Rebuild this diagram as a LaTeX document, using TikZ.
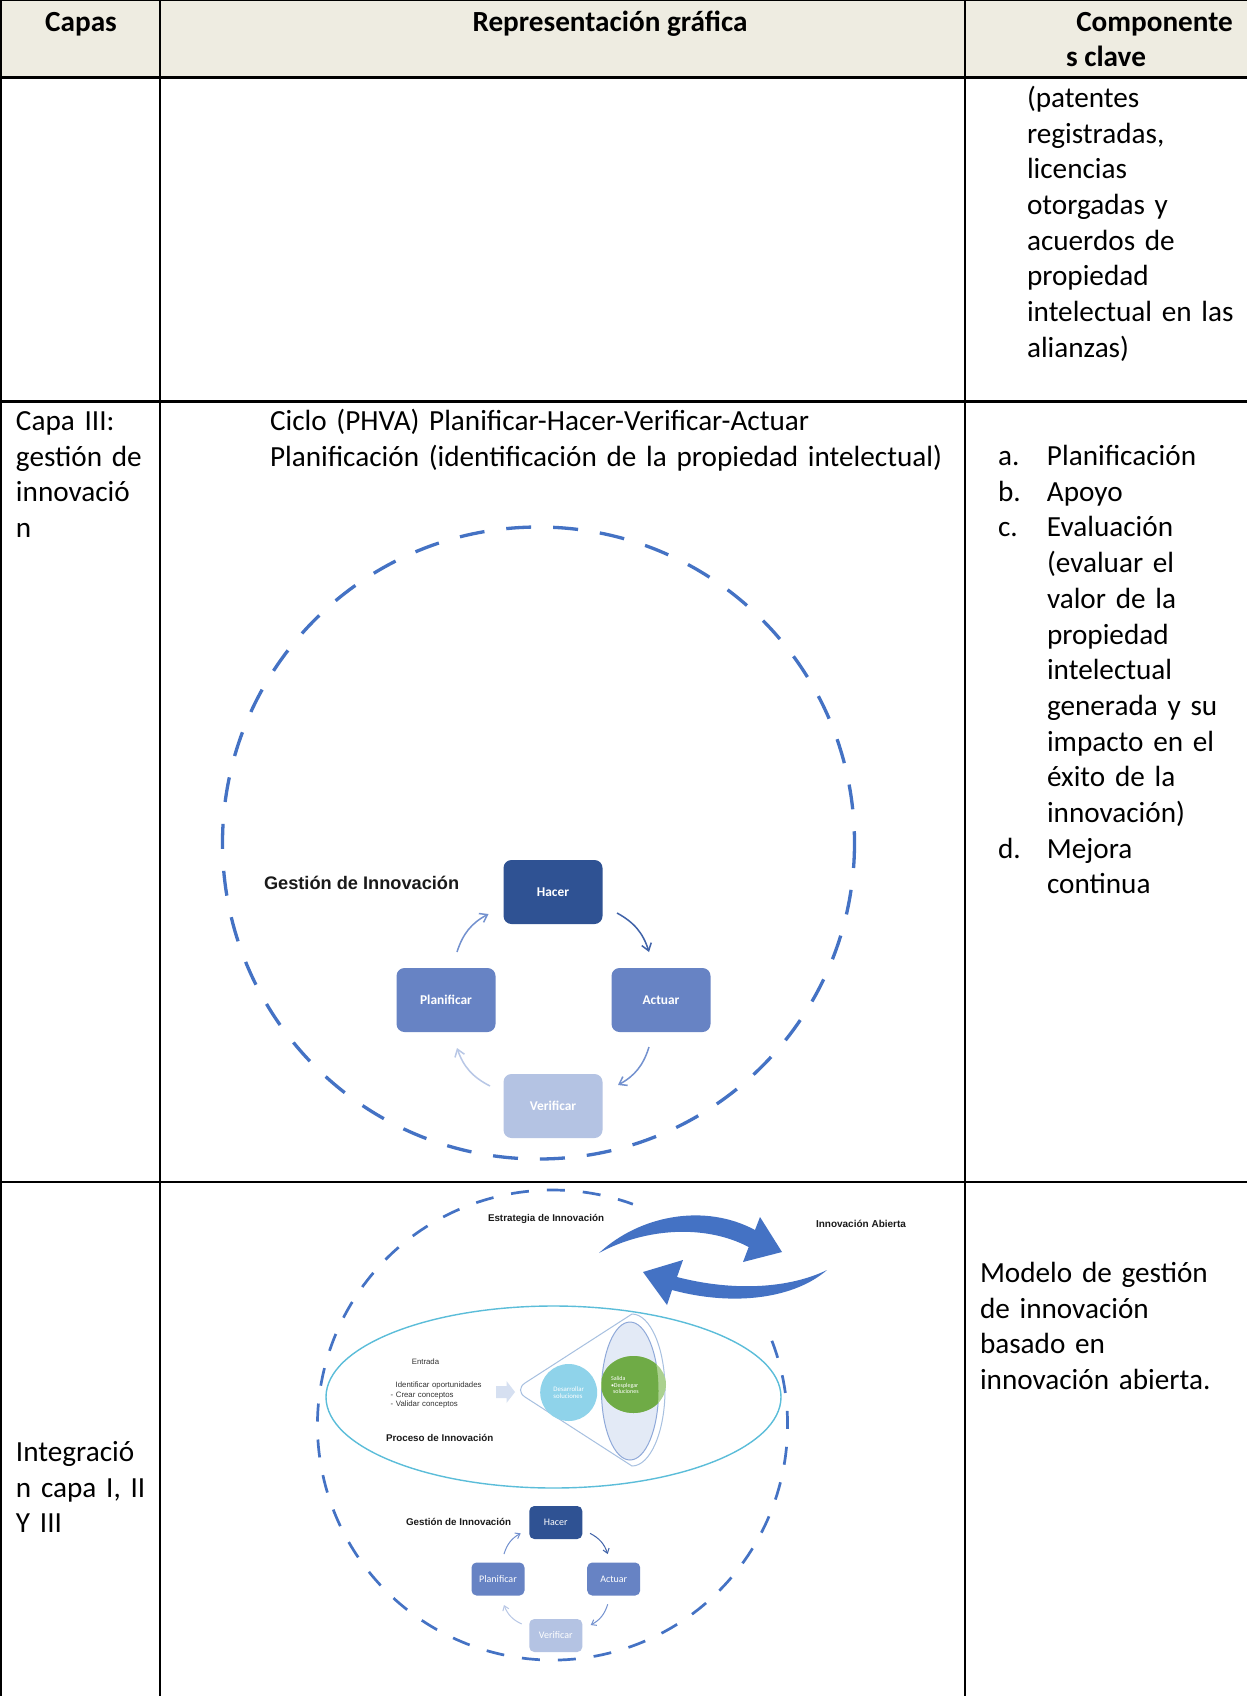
\documentclass[tikz,border=0pt]{standalone}
\usepackage{fontspec}
\setmainfont{Carlito}
\newfontfamily\arialfont{Liberation Sans}
\usetikzlibrary{arrows.meta,calc}
\hyphenpenalty=10000
\exhyphenpenalty=10000

\definecolor{hdrfill}{HTML}{EEECE1}
\definecolor{ringblue}{HTML}{4472C4}
\definecolor{boxdark}{HTML}{2F5293}
\definecolor{boxmid}{HTML}{6783C4}
\definecolor{boxlight}{HTML}{B4C3E3}
\definecolor{arrdark}{HTML}{3F62A8}
\definecolor{arrmid}{HTML}{7391CF}
\definecolor{arrlight}{HTML}{B8C7E6}
\definecolor{procline}{HTML}{5BBDD9}
\definecolor{funnelline}{HTML}{A7C0E0}
\definecolor{palefill}{HTML}{E3EAF6}
\definecolor{paleline}{HTML}{8FA9D9}
\definecolor{devcyan}{HTML}{8FD3EA}
\definecolor{outgreen}{HTML}{6FAB46}
\definecolor{outgreenlt}{HTML}{ABD18F}
\definecolor{chevron}{HTML}{D6E0F1}
\definecolor{labeltext}{HTML}{1A1A1A}
\definecolor{smalltext}{HTML}{333333}

\begin{document}
\begin{tikzpicture}[x=0.5pt,y=-0.5pt,
  every node/.style={inner sep=0pt, outer sep=0pt},
  thickrule/.style={line width=1.2pt},
  thinrule/.style={line width=0.55pt},
  bodytxt/.style={anchor=base west, text width=#1, align=left,
    font=\fontsize{14.6}{17.85}\selectfont},
  headtxt/.style={anchor=base, font=\bfseries\fontsize{14.6}{17.85}\selectfont},
  ringA/.style={draw=ringblue, line width=1.65pt, dash pattern=on 12.5pt off 11pt},
  ringB/.style={draw=ringblue, line width=1.35pt, dash pattern=on 9pt off 9pt},
  gtitle/.style={anchor=west, text=labeltext, font=\arialfont\bfseries\fontsize{#1}{#1}\selectfont},
  cycA/.style={rounded corners=4pt, minimum width=49.5pt, minimum height=32pt,
    text=white, font=\bfseries\fontsize{6.7}{8}\selectfont},
  cycB/.style={rounded corners=2.5pt, minimum width=26.5pt, minimum height=16.5pt,
    text=white, font=\fontsize{5}{6}\selectfont},
  cyarrA/.style={draw=#1, line width=0.75pt, -{Straight Barb[length=3.5pt,width=5pt]}},
  cyarrB/.style={draw=#1, line width=0.5pt, -{Straight Barb[length=2.2pt,width=3.2pt]}},
  tiny/.style={text=smalltext, font=\arialfont\fontsize{3.9}{4.75}\selectfont}
]
% page
\fill[white] (0,0) rectangle (1247,1696);
\useasboundingbox (0,0) rectangle (1247,1696);

% ---------- table frame ----------
\fill[hdrfill] (1.2,0.3) rectangle (1247,77.5);
\draw[thickrule] (1.2,0.3) -- (1247,0.3);
\draw[thickrule] (1.2,77.5) -- (1247,77.5);
\draw[thickrule] (1.2,401.5) -- (1247,401.5);
\draw[thickrule] (1.2,1182) -- (270,1182);
\draw[thinrule] (270,1182) -- (965,1182);
\draw[thickrule] (965,1182) -- (1247,1182);
\draw[thickrule] (1.2,0) -- (1.2,1696);
\draw[thickrule] (160,0) -- (160,507);
\draw[thinrule] (160,507) -- (160,1182);
\draw[thickrule] (160,1182) -- (160,1696);
\draw[thickrule] (965,0) -- (965,1696);

% ---------- header ----------
\node[headtxt] (hcapas) at (81,31.5) {Capas};
\node[headtxt] (hrep) at (610,31.5) {Representación gráfica};
\node[headtxt] (hcompA) at (1154.5,31.5) {Componente};
\node[headtxt] (hcompB) at (1106,67) {s clave};

% ---------- row 1 ----------
\node[bodytxt=130pt] (r1c3) at (1027,107.5) {(patentes\\registradas,\\licencias\\otorgadas y\\acuerdos de\\propiedad\\intelectual en las\\alianzas)};

% ---------- row 2 ----------
\node[bodytxt=70pt] (r2c1) at (16,430.5) {Capa III:\\gestión de\\innovació\\n};
\node[bodytxt=400pt] (r2c2) at (270,430.5) {Ciclo (PHVA) Planificar-Hacer-Verificar-Actuar\\Planificación (identificación de la propiedad intelectual)};
\node[bodytxt=130pt] (r2c3) at (998,465.5) {\makebox[24.5pt][l]{a.}Planificación\\
\makebox[24.5pt][l]{b.}Apoyo\\
\makebox[24.5pt][l]{c.}Evaluación\\
\hspace*{24.5pt}(evaluar el\\
\hspace*{24.5pt}valor de la\\
\hspace*{24.5pt}propiedad\\
\hspace*{24.5pt}intelectual\\
\hspace*{24.5pt}generada y su\\
\hspace*{24.5pt}impacto en el\\
\hspace*{24.5pt}éxito de la\\
\hspace*{24.5pt}innovación)\\
\makebox[24.5pt][l]{d.}Mejora\\
\hspace*{24.5pt}continua};

% management cycle with its dashed ring
\draw[ringA] (538.5,843) circle[radius=316];
\node[gtitle=9.1] (gtitA) at (264,883) {Gestión de Innovación};
\node[cycA, fill=boxdark]  (haA) at (553,892)  {Hacer};
\node[cycA, fill=boxmid]   (plA) at (446,1000) {Planificar};
\node[cycA, fill=boxmid]   (acA) at (661,1000) {Actuar};
\node[cycA, fill=boxlight] (veA) at (553,1106) {Verificar};
\draw[cyarrA=arrmid]   ($(plA.north)+(11,-16)$) to[bend left=22] ($(haA.west)+(-15,22)$);
\draw[cyarrA=arrdark]  ($(haA.east)+(14.5,21)$) to[bend left=22] ($(acA.north)+(-12,-16)$);
\draw[cyarrA=arrmid]   ($(acA.south)+(-12,15)$) to[bend left=22] ($(veA.east)+(15.5,-21)$);
\draw[cyarrA=arrlight] ($(veA.west)+(-13.5,-20)$) to[bend left=22] ($(plA.south)+(11,16)$);

% ---------- row 3 ----------
\node[bodytxt=70pt] (r3c1) at (16,1461.5) {Integració\\n capa I, II\\Y III};
\node[bodytxt=130pt] (r3c3) at (980,1282.5) {Modelo de gestión\\de innovación\\basado en\\innovación abierta.};

% open-innovation ring (upper right arc left open)
\draw[ringB] ($(552.5,1425)+(-21:235)$) arc[start angle=-21, end angle=290, radius=235];
\node[anchor=center, text=labeltext, font=\arialfont\bfseries\fontsize{4.9}{5}\selectfont] (estr) at (546,1219) {Estrategia de Innovación};
\node[anchor=center, text=labeltext, font=\arialfont\bfseries\fontsize{5}{5}\selectfont] (abierta) at (861,1224) {Innovación Abierta};

% exchange arrows
\fill[ringblue] (599,1253) .. controls (640,1215) and (705,1203) .. (755,1230)
  -- (760,1217) -- (782,1252) -- (743,1262) -- (748.7,1247)
  .. controls (705,1224) and (645,1228) .. (599,1253) -- cycle;
\fill[ringblue] (827,1270) .. controls (790,1288) and (735,1292) .. (677,1277)
  -- (683,1260) -- (643,1272) -- (667,1305) -- (672,1290)
  .. controls (735,1307) and (795,1298) .. (827,1270) -- cycle;

% innovation process
\draw[procline, line width=0.7pt] (553.5,1397) ellipse[x radius=227.5, y radius=91];
\node[anchor=center, tiny] (entrada) at (425.5,1362) {Entrada};
\node[anchor=base west, tiny, text width=60pt, align=left] (pasos) at (390.7,1387.5)
  {\hspace*{2.5pt}Identificar oportunidades\\- Crear conceptos\\- Validar conceptos};
\node[gtitle=4.9] (proc) at (386,1438) {Proceso de Innovación};
\fill[chevron] (496,1386) -- (506.5,1386) -- (506.5,1381) -- (515,1392)
  -- (506.5,1403) -- (506.5,1398) -- (496,1398) -- cycle;
\draw[funnelline, line width=0.5pt] (632,1314) -- (525,1383)
  .. controls (519,1387) and (519,1393) .. (525,1397) -- (632,1466)
  arc[start angle=90, end angle=-90, x radius=33, y radius=76];
\filldraw[fill=palefill, draw=paleline, line width=0.5pt] (630,1391) ellipse[x radius=28.5, y radius=69];
\node[circle, fill=devcyan, minimum size=28.5pt, text=white, align=left,
  font=\fontsize{3.4}{3.85}\selectfont] (dev) at (568.7,1392.5) {Desarrollar\\soluciones};
\fill[outgreenlt] (633.5,1384.5) ellipse[x radius=32.5, y radius=28.5];
\begin{scope}
  \clip (630,1391) ellipse[x radius=28.5, y radius=69];
  \fill[outgreen] (633.5,1384.5) ellipse[x radius=32.5, y radius=28.5];
\end{scope}
\node[anchor=west, text=white, align=left, font=\fontsize{3}{3.25}\selectfont] (salida) at (611,1385)
  {Salida\\•Desplegar\\\hspace*{1pt}soluciones};

% small management cycle
\node[gtitle=4.9] (gtitB) at (406,1522) {Gestión de Innovación};
\node[cycB, fill=boxdark]  (haB) at (555.8,1522.5) {Hacer};
\node[cycB, fill=boxmid]   (plB) at (498,1579)     {Planificar};
\node[cycB, fill=boxmid]   (acB) at (613.7,1579)   {Actuar};
\node[cycB, fill=boxlight] (veB) at (555.8,1635.5) {Verificar};
\draw[cyarrB=arrmid]   ($(plB.north)+(6,-8.5)$) to[bend left=22] ($(haB.west)+(-8.6,10.8)$);
\draw[cyarrB=arrdark]  ($(haB.east)+(7.7,10.8)$) to[bend left=22] ($(acB.north)+(-6,-8.5)$);
\draw[cyarrB=arrmid]   ($(acB.south)+(-6,8.8)$) to[bend left=22] ($(veB.east)+(8.4,-10.5)$);
\draw[cyarrB=arrlight] ($(veB.west)+(-7.6,-11.5)$) to[bend left=22] ($(plB.south)+(6,9.5)$);
\end{tikzpicture}
\end{document}
